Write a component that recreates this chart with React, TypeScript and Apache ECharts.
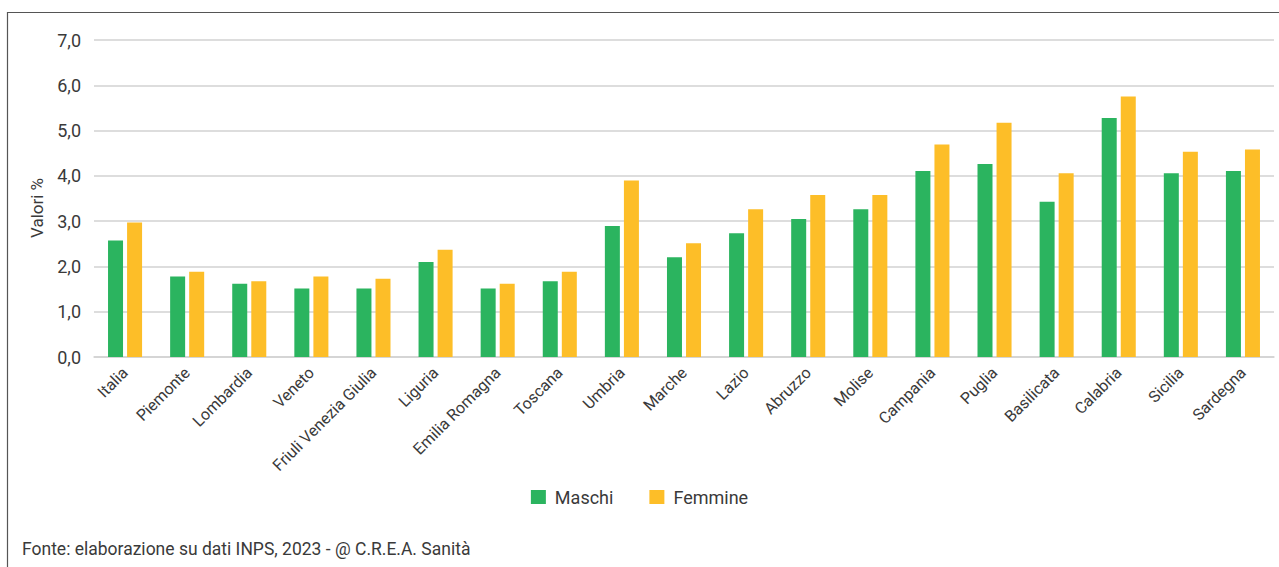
import React, { useEffect, useRef } from "react";
import * as echarts from "echarts";

const categories = [
  "Italia", "Piemonte", "Lombardia", "Veneto", "Friuli Venezia Giulia", "Liguria",
  "Emilia Romagna", "Toscana", "Umbria", "Marche", "Lazio", "Abruzzo", "Molise",
  "Campania", "Puglia", "Basilicata", "Calabria", "Sicilia", "Sardegna",
];
const maschi = [2.57, 1.78, 1.62, 1.51, 1.51, 2.1, 1.51, 1.67, 2.89, 2.2, 2.73, 3.05, 3.26, 4.11, 4.26, 3.43, 5.28, 4.06, 4.11];
const femmine = [2.97, 1.88, 1.67, 1.78, 1.73, 2.37, 1.62, 1.88, 3.9, 2.51, 3.26, 3.58, 3.58, 4.69, 5.17, 4.06, 5.75, 4.53, 4.58];
const yTicks = [0, 1, 2, 3, 4, 5, 6, 7];
const seriesNames = ["Maschi", "Femmine"];
const yAxisName = "Valori %";
const sourceText = "Fonte: elaborazione su dati INPS, 2023 - @ C.R.E.A. Sanità";

const FONT = "Roboto, 'Liberation Sans', sans-serif";
const TEXT = "#3a3a3a";

export default function App() {
  const ref = useRef<HTMLDivElement>(null);
  useEffect(() => {
    if (!ref.current) return;
    const chart = echarts.init(ref.current, undefined, { renderer: "svg" });
    chart.setOption({
      animation: false,
      textStyle: { fontFamily: FONT },
      grid: { left: 94, right: 5, top: 40, bottom: 210 },
      legend: {
        data: seriesNames,
        left: "center",
        top: 483,
        itemWidth: 15,
        itemHeight: 14,
        itemGap: 36,
        icon: "rect",
        textStyle: { fontSize: 18, color: TEXT, fontFamily: FONT, padding: [0, 0, 0, 4] },
      },
      xAxis: {
        type: "category",
        data: categories,
        axisTick: { show: false },
        axisLine: { show: true, lineStyle: { color: "#d2d2d2", width: 1.5 } },
        axisLabel: {
          interval: 0,
          rotate: 45,
          margin: 13,
          fontSize: 16,
          color: TEXT,
          fontFamily: FONT,
        },
      },
      yAxis: {
        type: "value",
        min: yTicks[0],
        max: yTicks[yTicks.length - 1],
        interval: 1,
        axisLabel: {
          formatter: (v: number) => v.toFixed(1).replace(".", ","),
          fontSize: 18,
          color: TEXT,
          margin: 13,
          fontFamily: FONT,
        },
        splitLine: { lineStyle: { color: "#d2d2d2", width: 1.5 } },
      },
      series: [
        {
          name: seriesNames[0],
          type: "bar",
          data: maschi,
          barWidth: 15,
          barGap: "27%",
          itemStyle: { color: "#2BB45F" },
        },
        {
          name: seriesNames[1],
          type: "bar",
          data: femmine,
          barWidth: 15,
          itemStyle: { color: "#FDBE28" },
        },
      ],
      graphic: [
        {
          type: "line",
          shape: { x1: 7.5, y1: 12, x2: 7.5, y2: 567 },
          style: { stroke: "#555", lineWidth: 1.2 },
        },
        {
          type: "line",
          shape: { x1: 7, y1: 12.5, x2: 1279, y2: 12.5 },
          style: { stroke: "#555", lineWidth: 1.2 },
        },
        {
          type: "text",
          x: 37,
          y: 208,
          rotation: Math.PI / 2,
          style: {
            text: yAxisName,
            fontSize: 17,
            fill: TEXT,
            fontFamily: FONT,
            align: "center",
            verticalAlign: "middle",
          },
        },
        {
          type: "text",
          left: 22,
          top: 540,
          style: { text: sourceText, fontSize: 17.5, fill: TEXT, fontFamily: FONT },
        },
      ],
    });
    return () => chart.dispose();
  }, []);
  return (
    <div
      ref={ref}
      style={{ position: "absolute", left: 0, top: 0, width: 1279, height: 567, background: "#fff" }}
    />
  );
}
